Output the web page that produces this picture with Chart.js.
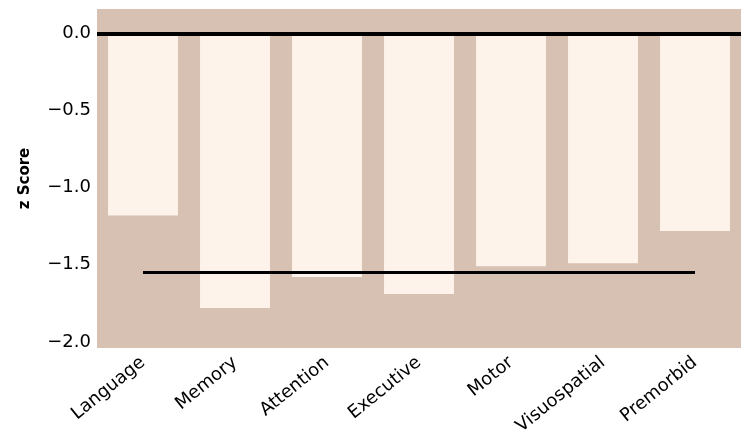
<!DOCTYPE html>
<html>
<head>
<meta charset="utf-8">
<script src="https://cdn.jsdelivr.net/npm/chart.js@4"></script>
<style>
  html, body { margin: 0; padding: 0; background: #ffffff; }
  #wrap { width: 741px; height: 436px; }
</style>
</head>
<body>
<div id="wrap"><canvas id="zChart" width="741" height="436"></canvas></div>
<script>
// data
const domains = ['Language', 'Memory', 'Attention', 'Executive', 'Motor', 'Visuospatial', 'Premorbid'];
const zScores = [-1.18, -1.78, -1.58, -1.69, -1.51, -1.49, -1.28];
const cutoff = [-1.55, -1.55, -1.55, -1.55, -1.55, -1.55, -1.55];
const yTicks = [0.0, -0.5, -1.0, -1.5, -2.0];

const plotBg = '#d6c1b2';
const barFill = '#fdf3ea';

// tan panel behind the bars
const panelBg = {
    id: 'panelBg',
    beforeDraw(chart) {
        const a = chart.chartArea;
        const ctx = chart.ctx;
        ctx.save();
        ctx.fillStyle = plotBg;
        ctx.fillRect(a.left, a.top, a.right - a.left, a.bottom - a.top);
        ctx.restore();
    }
};

const ctx = document.getElementById('zChart').getContext('2d');
new Chart(ctx, {
    data: {
        labels: domains,
        datasets: [{
            type: 'line',
            data: cutoff,
            borderColor: '#000000',
            borderWidth: 3,
            pointRadius: 0,
            order: 0
        }, {
            type: 'bar',
            data: zScores,
            backgroundColor: barFill,
            borderWidth: 0,
            barPercentage: 0.76,
            categoryPercentage: 1,
            order: 1
        }]
    },
    options: {
        responsive: false,
        animation: false,
        layout: { padding: { top: 9, right: 0, left: 0, bottom: 0 } },
        plugins: {
            legend: { display: false },
            tooltip: { enabled: false }
        },
        scales: {
            x: {
                offset: true,
                grid: { display: false, drawTicks: false },
                border: { display: false },
                ticks: {
                    color: '#000000',
                    font: { family: 'DejaVu Sans', size: 18 },
                    minRotation: 39,
                    maxRotation: 39,
                    padding: 4
                },
                afterFit: function(s) { s.height = 88; }
            },
            y: {
                min: -2.04,
                max: 0.16,
                afterBuildTicks: function(s) {
                    s.ticks = yTicks.map(v => ({ value: v }));
                },
                grid: {
                    drawTicks: false,
                    color: c => (c.tick && c.tick.value === 0 ? '#000000' : 'rgba(0,0,0,0)'),
                    lineWidth: c => (c.tick && c.tick.value === 0 ? 4 : 0),
                    z: 1
                },
                border: { display: false },
                ticks: {
                    color: '#000000',
                    font: { family: 'DejaVu Sans', size: 18 },
                    padding: 6,
                    callback: v => v.toFixed(1).replace('-', '\u2212')
                },
                title: {
                    display: true,
                    text: 'z Score',
                    color: '#000000',
                    font: { family: 'DejaVu Sans', size: 15, weight: 'bold' },
                    padding: { top: 16, bottom: 4 }
                },
                afterFit: function(s) {
                    s.width = 97;
                    s.paddingTop = 0;
                    s.paddingBottom = 0;
                }
            }
        }
    },
    plugins: [panelBg]
});
</script>
</body>
</html>
